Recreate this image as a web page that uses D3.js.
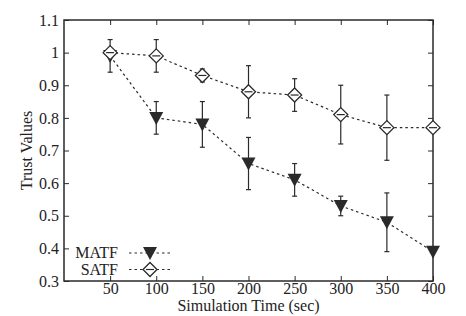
<!DOCTYPE html>
<html>
<head>
<meta charset="utf-8">
<script src="https://cdn.jsdelivr.net/npm/d3@7"></script>
<style>
  body { margin: 0; background: #fff; }
  text { font-family: "Liberation Serif", "DejaVu Serif", serif; fill: #222; }
</style>
</head>
<body>
<svg width="466" height="316"></svg>
<script>
var times = [50, 100, 150, 200, 250, 300, 350, 400];
var matf = [0.99, 0.80, 0.78, 0.66, 0.61, 0.53, 0.48, 0.39];
var matfErr = [0.05, 0.05, 0.07, 0.08, 0.05, 0.03, 0.09, 0];
var satf = [1.00, 0.99, 0.93, 0.88, 0.87, 0.81, 0.77, 0.77];
var satfErr = [0.01, 0.05, 0.02, 0.08, 0.05, 0.09, 0.10, 0];
var xTicks = [50, 100, 150, 200, 250, 300, 350, 400];
var yTicks = [0.3, 0.4, 0.5, 0.6, 0.7, 0.8, 0.9, 1, 1.1];

var svg = d3.select("svg"),
    mL = 64, mR = 433, mT = 20, mB = 281;

var x = d3.scaleLinear().domain([0, 400]).range([mL, mR]);
var y = d3.scaleLinear().domain([0.3, 1.1]).range([mB, mT]);

var ink = "#2a2a2a", fs = "16px";

// axes (labels outside, ticks inside)
svg.append("g")
    .attr("transform", "translate(0," + mB + ")")
    .call(d3.axisBottom(x).tickValues(xTicks).tickSize(-5).tickPadding(2).tickFormat(d3.format("d")))
    .call(function(g) { g.select(".domain").remove(); g.selectAll("line").attr("stroke", ink); g.selectAll("text").style("font-size", fs).attr("fill", ink); });

svg.append("g")
    .attr("transform", "translate(0," + mT + ")")
    .call(d3.axisTop(x).tickValues(xTicks).tickSize(-5).tickFormat(""))
    .call(function(g) { g.select(".domain").remove(); g.selectAll("line").attr("stroke", ink); });

svg.append("g")
    .attr("transform", "translate(" + mL + ",0)")
    .call(d3.axisLeft(y).tickValues(yTicks).tickSize(-5).tickPadding(5).tickFormat(function(d) { return String(+d.toFixed(1)); }))
    .call(function(g) { g.select(".domain").remove(); g.selectAll("line").attr("stroke", ink); g.selectAll("text").style("font-size", fs).attr("fill", ink); });

svg.append("g")
    .attr("transform", "translate(" + mR + ",0)")
    .call(d3.axisRight(y).tickValues(yTicks).tickSize(-5).tickFormat(""))
    .call(function(g) { g.select(".domain").remove(); g.selectAll("line").attr("stroke", ink); });

svg.append("rect")
    .attr("x", mL).attr("y", mT)
    .attr("width", mR - mL).attr("height", mB - mT)
    .attr("fill", "none").attr("stroke", ink).attr("stroke-width", 1.5);

// axis titles
svg.append("text")
    .attr("x", (mL + mR) / 2).attr("y", 311)
    .attr("text-anchor", "middle")
    .style("font-size", fs)
    .text("Simulation Time (sec)");

svg.append("text")
    .attr("transform", "translate(32," + (mT + mB) / 2 + ") rotate(-90)")
    .attr("text-anchor", "middle")
    .style("font-size", fs)
    .text("Trust Values");

var series = [
  { name: "MATF", values: matf, err: matfErr, marker: "tri" },
  { name: "SATF", values: satf, err: satfErr, marker: "dia" }
];

var line = d3.line()
    .x(function(d) { return x(d.t); })
    .y(function(d) { return y(d.v); });

function drawMarker(g, type, cx, cy) {
  if (type === "tri") {
    g.append("path")
        .attr("d", "M" + (cx - 7) + "," + (cy - 6) + "L" + (cx + 7) + "," + (cy - 6) + "L" + cx + "," + (cy + 7) + "Z")
        .attr("fill", ink);
  } else {
    g.append("path")
        .attr("d", "M" + cx + "," + (cy - 7) + "L" + (cx + 7) + "," + cy + "L" + cx + "," + (cy + 7) + "L" + (cx - 7) + "," + cy + "Z")
        .attr("fill", "#fff").attr("stroke", ink).attr("stroke-width", 1.3);
    g.append("line")
        .attr("x1", cx - 4).attr("x2", cx + 4).attr("y1", cy).attr("y2", cy)
        .attr("stroke", ink).attr("stroke-width", 1.2);
  }
}

series.forEach(function(s) {
  var pts = times.map(function(t, i) { return { t: t, v: s.values[i], e: s.err[i] }; });
  var g = svg.append("g");

  g.append("path")
      .datum(pts)
      .attr("d", line)
      .attr("fill", "none")
      .attr("stroke", ink)
      .attr("stroke-width", 1.2)
      .attr("stroke-dasharray", "2.5,3");

  pts.forEach(function(p) {
    if (p.e > 0) {
      var cx = x(p.t), y1 = y(p.v + p.e), y2 = y(p.v - p.e);
      g.append("line").attr("x1", cx).attr("x2", cx).attr("y1", y1).attr("y2", y2).attr("stroke", ink).attr("stroke-width", 1.2);
      g.append("line").attr("x1", cx - 2.5).attr("x2", cx + 2.5).attr("y1", y1).attr("y2", y1).attr("stroke", ink).attr("stroke-width", 1.2);
      g.append("line").attr("x1", cx - 2.5).attr("x2", cx + 2.5).attr("y1", y2).attr("y2", y2).attr("stroke", ink).attr("stroke-width", 1.2);
    }
  });
  pts.forEach(function(p) { drawMarker(g, s.marker, x(p.t), y(p.v)); });
});

// legend
series.forEach(function(s, i) {
  var ly = 253 + i * 16.5;
  var g = svg.append("g");
  g.append("text")
      .attr("x", 118).attr("y", ly + 5)
      .attr("text-anchor", "end")
      .style("font-size", fs)
      .text(s.name);
  g.append("line")
      .attr("x1", 129).attr("x2", 172).attr("y1", ly).attr("y2", ly)
      .attr("stroke", ink).attr("stroke-width", 1.2).attr("stroke-dasharray", "2.5,3");
  drawMarker(g, s.marker, 150, ly);
});
</script>
</body>
</html>
